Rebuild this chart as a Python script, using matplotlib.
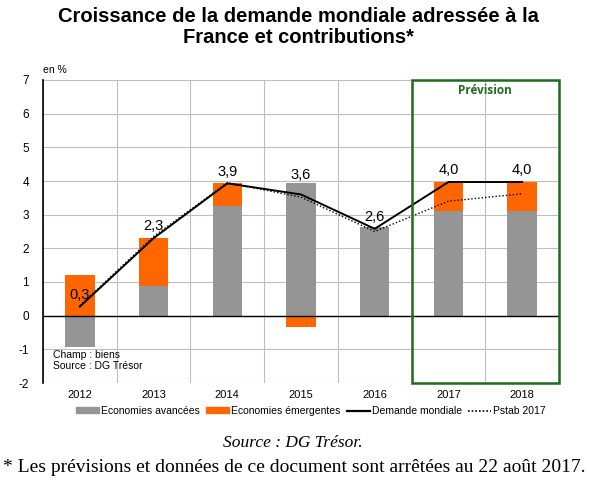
import numpy as np
import matplotlib.pyplot as plt
from matplotlib.patches import Patch, Rectangle
from matplotlib.lines import Line2D

plt.rcParams['font.family'] = ['Liberation Sans', 'DejaVu Sans']
plt.rcParams['axes.unicode_minus'] = False

# Data
years = ["2012", "2013", "2014", "2015", "2016", "2017", "2018"]
avancees = [-0.92, 0.87, 3.27, 3.93, 2.62, 3.12, 3.12]
emergentes = [1.22, 1.43, 0.66, -0.35, -0.03, 0.85, 0.85]
demande = [0.27, 2.3, 3.93, 3.6, 2.58, 3.97, 3.97]
pstab = [0.3, 2.35, 3.95, 3.52, 2.5, 3.4, 3.62]
labels = ["0,3", "2,3", "3,9", "3,6", "2,6", "4,0", "4,0"]

GRAY = "#959595"
ORANGE = "#FF6600"
GREEN = "#1F6B1F"

fig = plt.figure(figsize=(5.9, 4.87), dpi=100)
ax = fig.add_axes([43 / 590, 1 - 383 / 487, (559 - 43) / 590, (383 - 80) / 487])

x = np.arange(len(years))
w = 0.4

ax.bar(x, avancees, width=w, color=GRAY, zorder=2)
# stack emerging on top of advanced when both positive, else start at 0
bottoms = [a if (a > 0 and e > 0) else 0 for a, e in zip(avancees, emergentes)]
ax.bar(x, emergentes, width=w, bottom=bottoms, color=ORANGE, zorder=2)

ax.plot(x, pstab, color="black", linestyle=(0, (1, 1.5)), lw=1.0, zorder=3)
ax.plot(x, demande, color="black", lw=1.4, zorder=4)

for i, lab in enumerate(labels):
    top = max(demande[i] + 0.35, avancees[i] + 0.25)
    ax.text(x[i], top, lab, ha="center", va="center", fontsize=10.5, zorder=5)

ax.set_xlim(-0.5, len(years) - 0.5)
ax.set_ylim(-2, 7)
ax.set_yticks(range(-2, 8))
ax.set_xticks(x)
ax.set_xticklabels(years, fontsize=8)
ax.tick_params(axis="y", labelsize=8.5, length=0, pad=10)
ax.tick_params(axis="x", length=0, pad=5)

# grid: horizontal at integers, vertical at category boundaries
for yv in range(-2, 8):
    ax.axhline(yv, color="#BEBEBE", lw=0.8, zorder=0)
for xv in np.arange(-0.5, len(years), 1.0):
    ax.axvline(xv, color="#BEBEBE", lw=0.8, zorder=0)
ax.axhline(0, color="black", lw=1.0, zorder=3)

for s in ["top", "right", "bottom"]:
    ax.spines[s].set_visible(False)
ax.spines["left"].set_color("black")
ax.spines["left"].set_linewidth(1.2)
ax.spines["left"].set_zorder(5)

# forecast box
ax.add_patch(Rectangle((4.5, -2), 2, 9, fill=False, edgecolor=GREEN, lw=1.8,
                       zorder=6, clip_on=False))
ax.text(5.5, 6.7, "Prévision", color=GREEN, fontweight="bold", ha="center",
        va="center", fontsize=8.5, family=["Open Sans", "DejaVu Sans"])

ax.text(0.02, 0.04, "Champ : biens\nSource : DG Trésor", transform=ax.transAxes,
        fontsize=7.5, ha="left", va="bottom", linespacing=1.1)

fig.text(43 / 590, 1 - 70 / 487, "en %", fontsize=7.5, ha="left", va="center")

fig.text(298 / 590, 1 - 27 / 487, "Croissance de la demande mondiale adressée à la\nFrance et contributions*",
         ha="center", va="center", fontsize=14.5, fontweight="bold", linespacing=1.1)

handles = [Patch(color=GRAY), Patch(color=ORANGE),
           Line2D([], [], color="black", lw=1.6),
           Line2D([], [], color="black", lw=1.2, linestyle=(0, (1, 1.2)))]
names = ["Economies avancées", "Economies émergentes", "Demande mondiale", "Pstab 2017"]
fig.legend(handles, names, loc="center", bbox_to_anchor=(311 / 590, 1 - 411 / 487),
           ncol=4, frameon=False, fontsize=7.5, handlelength=2.2, handleheight=0.5,
           handletextpad=0.2, columnspacing=0.6)

fig.text(293 / 590, 1 - 443 / 487, "Source : DG Trésor.", ha="center", va="center",
         fontsize=12.5, style="italic", family=["Liberation Serif", "DejaVu Serif"])
fig.text(294 / 590, 1 - 467 / 487,
         "* Les prévisions et données de ce document sont arrêtées au 22 août 2017.",
         ha="center", va="center", fontsize=14, family=["Liberation Serif", "DejaVu Serif"])

fig.savefig("out.png", dpi=100)
